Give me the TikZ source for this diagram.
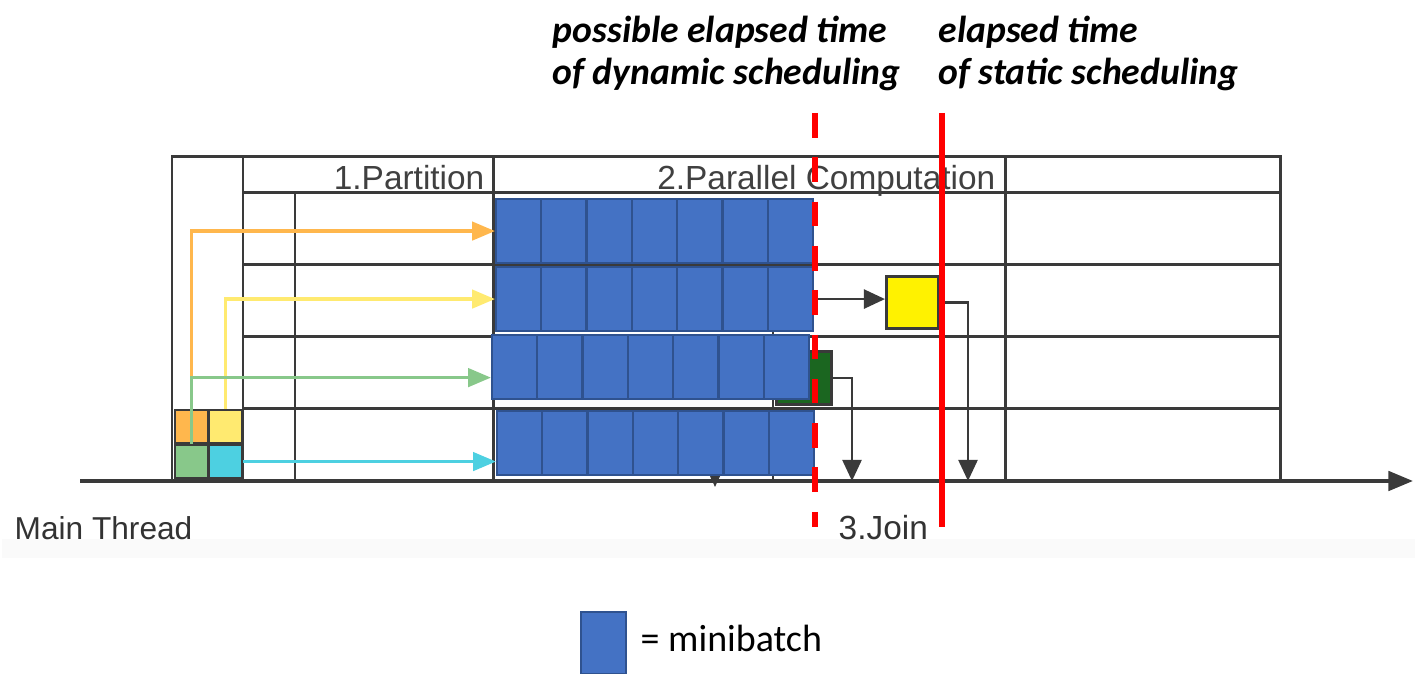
\documentclass[tikz,border=0pt]{standalone}
\usepackage{fontspec}
\setmainfont{Liberation Sans}
\newfontfamily\calib{Carlito}
\usetikzlibrary{arrows.meta}
\definecolor{mbblue}{HTML}{4472C4}
\definecolor{mbedge}{HTML}{2F528F}
\definecolor{gridgray}{HTML}{3A3A3A}
\definecolor{feedorange}{HTML}{FFB74D}
\definecolor{feedyellow}{HTML}{FFEA70}
\definecolor{feedgreen}{HTML}{88C88A}
\definecolor{feedcyan}{HTML}{4DD0E1}
\definecolor{joingreen}{HTML}{1B6620}
\tikzset{
  grid/.style={draw=gridgray, line width=0.85pt},
  minibatch/.style={draw=mbedge, fill=mbblue, line width=0.6pt, inner sep=0pt,
    minimum width=0.45cm, minimum height=0.64cm, anchor=north west},
  chunk/.style={draw=gridgray, line width=0.6pt, inner sep=0pt, minimum size=0.33cm, anchor=north west},
  feed/.style={line width=1pt, -{Triangle[length=6.5pt,width=5.2pt]}},
  joinarrow/.style={draw=gridgray, line width=0.75pt, -{Triangle[length=6pt,width=5.4pt]}},
  phase/.style={font=\fontsize{9.5}{11}\selectfont, text=black!75, inner sep=0pt},
  remark/.style={font=\calib\bfseries\itshape\fontsize{10.7}{12}\selectfont, inner sep=0pt, align=left, anchor=north west}
}
\begin{document}
\begin{tikzpicture}[x=0.01cm, y=-0.01cm]
    \useasboundingbox (0,0) rectangle (1415,674);
    \fill[black!2] (2,539) rectangle (1415,558);
    % table of the three phases
    \draw[grid] (172,157) rectangle (1280,481);
    \draw[grid] (243,157) -- (243,481);
    \draw[grid] (243,193) -- (1280,193);
    \foreach \y in {265,337,409}{
        \draw[grid] (243,\y) -- (1280,\y);
    }
    \draw[grid] (295,193) -- (295,481);
    \draw[grid] (493,157) -- (493,481);
    \draw[grid] (1005,157) -- (1005,481);
    \node[phase, anchor=base east] (part) at (485,190) {1.Partition};
    \node[phase, anchor=base east] (comp) at (996,190) {2.Parallel Computation};
    % time axis
    \draw[draw=gridgray, line width=1.1pt, -{Triangle[length=7pt,width=5.5pt]}] (80,481) -- (1413,481);
    \node[phase, font=\fontsize{9}{11}\selectfont, text=black!80, anchor=base west] (main) at (14,540) {Main Thread};
    \node[phase, text=black!80, anchor=base west] (join) at (838,540) {3.Join};
    % partly hidden joins under the minibatches
    \draw[grid, line width=0.6pt] (773,265) -- (773,481);
    \draw[joinarrow] (715,440) -- (715,487);
    % data chunks of the main thread
    \node[chunk, fill=feedorange] (sqO) at (174,409) {};
    \node[chunk, fill=feedyellow] (sqY) at (208,409) {};
    \node[chunk, fill=feedgreen] (sqG) at (174,444) {};
    \node[chunk, fill=feedcyan] (sqC) at (208,444) {};
    % late workers
    \node[draw=gridgray, fill=joingreen, line width=0.8pt, inner sep=0pt, minimum width=0.55cm, minimum height=0.53cm, anchor=north west] (gblk) at (775,350) {};
    \node[draw=gridgray, fill=yellow, line width=0.8pt, inner sep=0pt, minimum size=0.52cm, anchor=north west] (yblk) at (885,275) {};
    \coordinate (j1) at (852,481);
    \coordinate (j2) at (968,481);
    \draw[joinarrow] (gblk.east) -| (j1);
    \draw[joinarrow] (yblk.east) -| (j2);
    % minibatches per worker
    \foreach \r/\y/\x in {1/198/495, 2/266/495, 3/334/491, 4/410/496}{
        \foreach \i in {1,...,7}{
            \pgfmathsetmacro{\bx}{\x+45.3*(\i-1)}
            \node[minibatch] (b\r-\i) at (\bx,\y) {};
        }
    }
    \draw[joinarrow] (b2-7.east) -- (b2-7.east -| yblk.west);
    \draw[feed, feedorange] (sqO.north) |- (b1-1.west);
    \draw[feed, feedyellow] (sqY.north) |- (b2-1.west);
    \draw[feed, feedgreen] (sqG.north) |- ([yshift=-3pt]b3-1.west);
    \draw[feed, feedcyan] (sqC.east) -- (sqC.east -| b4-1.west);
    % elapsed times
    \draw[red, line width=1.45pt, dash pattern=on 7pt off 5.6pt] (815,113) -- (815,527);
    \draw[red, line width=1.45pt] (942,113) -- (942,527);
    \node[remark] (dyn) at (552,15) {possible elapsed time\\of dynamic scheduling};
    \node[remark] (stat) at (938,15) {elapsed time\\of static scheduling};
    % legend
    \node[minibatch, minimum height=0.62cm] (key) at (580,611) {};
    \node[font=\calib\fontsize{10.8}{12}\selectfont, inner sep=0pt, anchor=base west] (keytext) at (640,652) {= minibatch};
\end{tikzpicture}
\end{document}
